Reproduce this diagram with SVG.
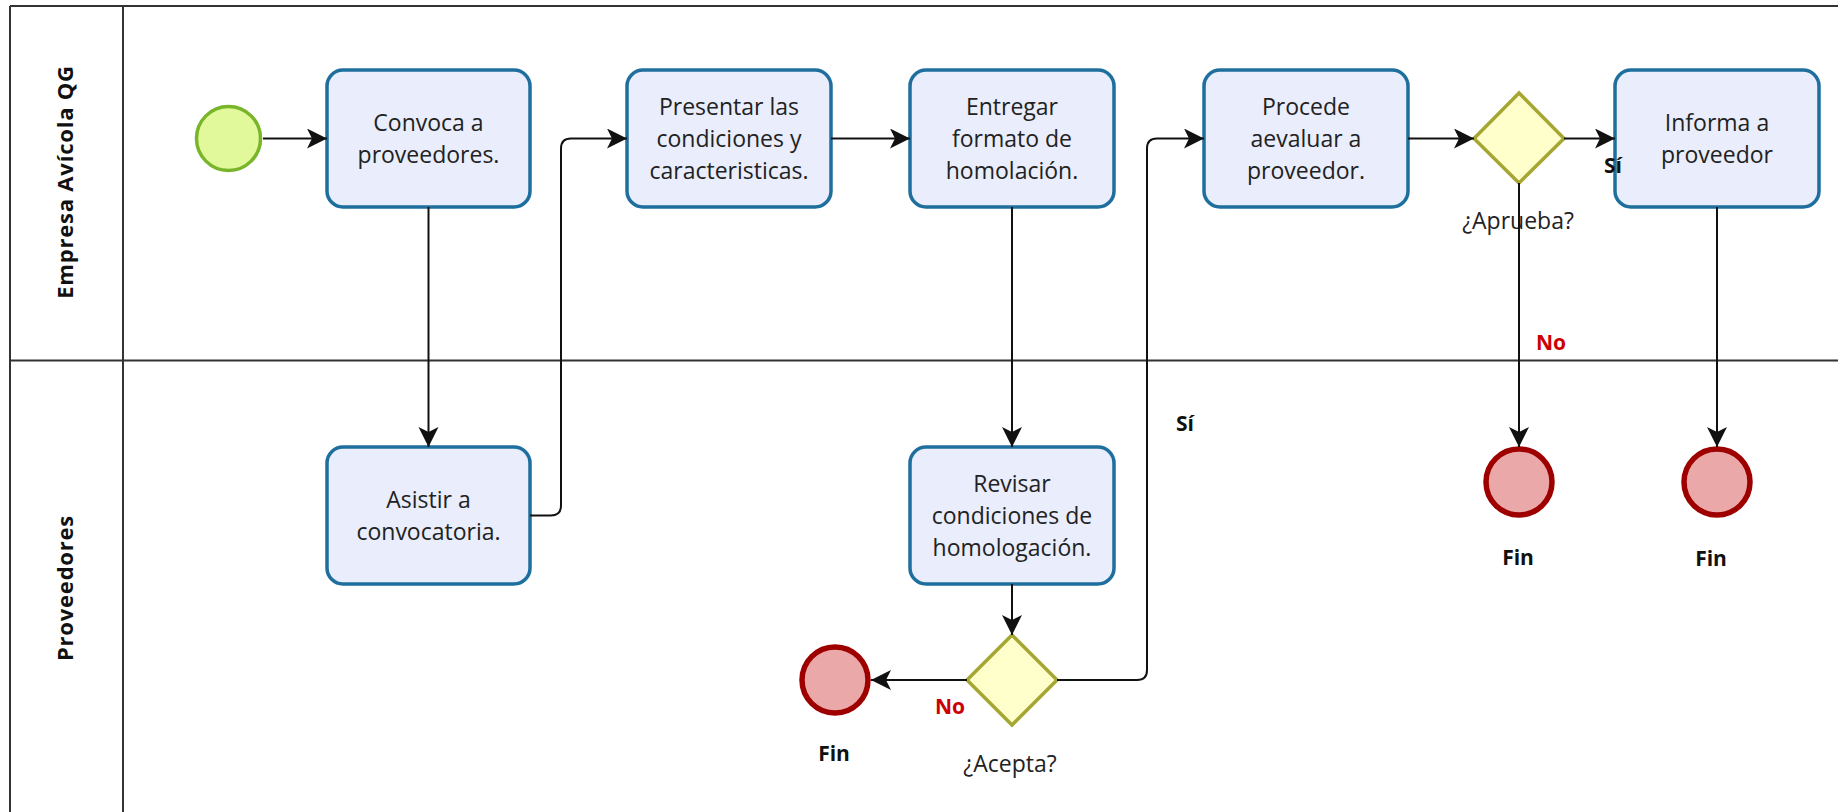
<svg xmlns="http://www.w3.org/2000/svg" width="1838" height="812" viewBox="0 0 1838 812">
  <style>
    .lane { stroke: #333; stroke-width: 2; fill: none; }
    .lane-title { font-family: "Open Sans", "Noto Sans", sans-serif; font-weight: bold; font-size: 22px; letter-spacing: 0.8px; fill: #111; text-anchor: middle; }
    .task rect { fill: #e9edfc; stroke: #1f6f9e; stroke-width: 3.5; }
    .task text, .label { font-family: "Open Sans", "Noto Sans", sans-serif; font-size: 23px; fill: #222; text-anchor: middle; }
    .start circle { fill: #e1f99a; stroke: #79b52a; stroke-width: 3.5; }
    .end circle { fill: #eba8a8; stroke: #9e0000; stroke-width: 5.5; }
    .gateway polygon { fill: #ffffcc; stroke: #a6a632; stroke-width: 3.5; }
    .tag { font-family: "Open Sans", "Noto Sans", sans-serif; font-size: 21px; font-weight: bold; fill: #111; text-anchor: middle; }
    .tag.no { fill: #cc0000; }
    .flow { fill: none; stroke: #111; stroke-width: 2; marker-end: url(#arrow); }
  </style>
  <defs>
    <marker id="arrow" markerUnits="userSpaceOnUse" markerWidth="22" markerHeight="22" refX="20" refY="10" orient="auto">
      <path d="M0,0 L20,10 L0,20 L5,10 Z" fill="#111"/>
    </marker>
  </defs>

  <!-- pool and lanes -->
  <g id="pool">
    <line class="lane" x1="10" y1="6" x2="1838" y2="6"/>
    <line class="lane" x1="10" y1="6" x2="10" y2="812"/>
    <line class="lane" x1="123" y1="6" x2="123" y2="812"/>
    <line class="lane" x1="10" y1="360.5" x2="1838" y2="360.5"/>
    <text class="lane-title" transform="translate(73,182) rotate(-90)">Empresa Avícola QG</text>
    <text class="lane-title" transform="translate(73,588) rotate(-90)">Proveedores</text>
  </g>

  <g id="start" class="start">
    <circle cx="228.5" cy="138.5" r="32"/>
  </g>

  <g id="convoca" class="task">
    <rect x="327" y="70" width="203" height="137" rx="16"/>
    <text x="428.5" y="130.5">Convoca a</text>
    <text x="428.5" y="162.5">proveedores.</text>
  </g>

  <g id="asistir" class="task">
    <rect x="327" y="447" width="203" height="137" rx="16"/>
    <text x="428.5" y="507.5">Asistir a</text>
    <text x="428.5" y="539.5">convocatoria.</text>
  </g>

  <g id="presentar" class="task">
    <rect x="627" y="70" width="204" height="137" rx="16"/>
    <text x="729" y="115">Presentar las</text>
    <text x="729" y="147">condiciones y</text>
    <text x="729" y="179">caracteristicas.</text>
  </g>

  <g id="entregar" class="task">
    <rect x="910" y="70" width="204" height="137" rx="16"/>
    <text x="1012" y="115">Entregar</text>
    <text x="1012" y="147">formato de</text>
    <text x="1012" y="179">homolación.</text>
  </g>

  <g id="revisar" class="task">
    <rect x="910" y="447" width="204" height="137" rx="16"/>
    <text x="1012" y="492">Revisar</text>
    <text x="1012" y="524">condiciones de</text>
    <text x="1012" y="556">homologación.</text>
  </g>

  <g id="acepta" class="gateway">
    <polygon points="1012,635 1057,680 1012,725 967,680"/>
    <text class="label" x="1010" y="772">¿Acepta?</text>
  </g>

  <g id="fin-rechazo" class="end">
    <circle cx="835" cy="680" r="33"/>
    <text class="tag" x="834" y="761">Fin</text>
  </g>

  <g id="procede" class="task">
    <rect x="1204" y="70" width="204" height="137" rx="16"/>
    <text x="1306" y="115">Procede</text>
    <text x="1306" y="147">aevaluar a</text>
    <text x="1306" y="179">proveedor.</text>
  </g>

  <g id="aprueba" class="gateway">
    <polygon points="1519,93 1564,138.5 1519,183 1474,138.5"/>
    <text class="label" x="1518" y="229">¿Aprueba?</text>
  </g>

  <g id="informa" class="task">
    <rect x="1615" y="70" width="204" height="137" rx="16"/>
    <text x="1717" y="130.5">Informa a</text>
    <text x="1717" y="162.5">proveedor</text>
  </g>

  <g id="fin-no-aprueba" class="end">
    <circle cx="1519" cy="482" r="33"/>
    <text class="tag" x="1518" y="565">Fin</text>
  </g>

  <g id="fin-informado" class="end">
    <circle cx="1717" cy="482" r="33"/>
    <text class="tag" x="1711" y="566">Fin</text>
  </g>

  <!-- sequence flows, drawn above the nodes so their labels stay visible -->
  <g id="connectors">
    <path class="flow" d="M263,138.5 H327"/>
    <path class="flow" d="M428.5,207 V447"/>
    <path class="flow" d="M530,515.5 H551 Q561,515.5 561,505.5 V148.5 Q561,138.5 571,138.5 H627"/>
    <path class="flow" d="M831,138.5 H910"/>
    <path class="flow" d="M1012,207 V447"/>
    <path class="flow" d="M1012,584 V635"/>
    <path class="flow" d="M967,680 H871"/>
    <path class="flow" d="M1057,680 H1137 Q1147,680 1147,670 V148.5 Q1147,138.5 1157,138.5 H1204"/>
    <path class="flow" d="M1408,138.5 H1474"/>
    <path class="flow" d="M1564,138.5 H1615"/>
    <path class="flow" d="M1519,183 V447"/>
    <path class="flow" d="M1717,207 V447"/>
    <text class="tag" x="1185" y="431">Sí</text>
    <text class="tag" x="1613" y="173">Sí</text>
    <text class="tag no" x="1551" y="350">No</text>
    <text class="tag no" x="950" y="714">No</text>
  </g>
</svg>
